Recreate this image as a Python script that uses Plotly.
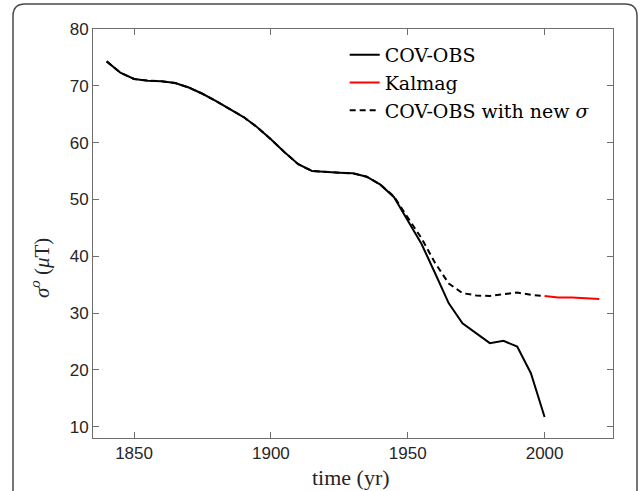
import plotly.graph_objects as go

# ---- data ----
cov_years = [1840, 1845, 1850, 1855, 1860, 1865, 1870, 1875, 1880, 1885, 1890,
             1895, 1900, 1905, 1910, 1915, 1920, 1925, 1930, 1935, 1940, 1945,
             1950, 1955, 1960, 1965, 1970, 1975, 1980, 1985, 1990, 1995, 2000]
cov_obs = [74.3, 72.3, 71.2, 70.9, 70.8, 70.5, 69.7, 68.6, 67.3, 65.9, 64.5,
           62.7, 60.6, 58.3, 56.2, 55.0, 54.8, 54.7, 54.6, 54.0, 52.6, 50.4,
           46.3, 42.2, 37.0, 31.7, 28.2, 26.4, 24.7, 25.1, 24.1, 19.4, 11.7]
cov_new = [74.3, 72.3, 71.2, 70.9, 70.8, 70.5, 69.7, 68.6, 67.3, 65.9, 64.5,
           62.7, 60.6, 58.3, 56.2, 55.0, 54.8, 54.7, 54.6, 54.0, 52.6, 50.5,
           46.8, 43.2, 38.8, 35.2, 33.5, 33.1, 33.0, 33.3, 33.6, 33.2, 33.0]
kal_years = [2000, 2005, 2010, 2015, 2020]
kalmag = [33.0, 32.75, 32.75, 32.65, 32.45]

x_ticks = [1850, 1900, 1950, 2000]
y_ticks = [10, 20, 30, 40, 50, 60, 70, 80]

serif = "Liberation Serif, DejaVu Serif, serif"
sans = "Liberation Sans, Arial, sans-serif"

fig = go.Figure()
fig.add_trace(go.Scatter(x=cov_years, y=cov_obs, mode="lines", name="COV-OBS",
                         line=dict(color="black", width=2)))
fig.add_trace(go.Scatter(x=kal_years, y=kalmag, mode="lines", name="Kalmag",
                         line=dict(color="red", width=2)))
fig.add_trace(go.Scatter(x=cov_years, y=cov_new, mode="lines",
                         name="COV-OBS with new <i>σ</i>",
                         line=dict(color="black", width=2, dash="6px,4px")))

axis_common = dict(showgrid=False, zeroline=False, showline=True, mirror="ticks",
                   linecolor="#6e6e6e", linewidth=1, ticks="inside", ticklen=6,
                   tickcolor="#6e6e6e", tickwidth=1,
                   tickfont=dict(family=sans, size=17, color="#262626"))

fig.update_layout(
    width=640, height=491,
    margin=dict(l=93, r=27, t=29, b=53, autoexpand=False),
    paper_bgcolor="white", plot_bgcolor="white",
    xaxis=dict(range=[1835, 2025], tickvals=x_ticks, **axis_common),
    yaxis=dict(range=[8, 80], tickvals=y_ticks, **axis_common),
    legend=dict(x=0.484, y=0.983, xanchor="left", yanchor="top",
                bgcolor="rgba(0,0,0,0)", borderwidth=0,
                font=dict(family="DejaVu Serif, serif", size=19, color="black"),
                tracegroupgap=0, itemwidth=30),
    showlegend=True,
)

# axis titles
fig.add_annotation(text="time (yr)", xref="paper", yref="paper",
                   x=(351 - 93) / 520, y=(438 - 477) / 409, xanchor="center", yanchor="middle",
                   showarrow=False, font=dict(family=serif, size=22, color="#262626"))
fig.add_annotation(text="<i>σ</i><sup><i>o</i></sup> (<i>μ</i>T)", xref="paper", yref="paper",
                   x=(40 - 93) / 520, y=(438 - 268) / 409, xanchor="center", yanchor="middle",
                   textangle=-90, showarrow=False,
                   font=dict(family=serif, size=21, color="#262626"))

# outer rounded frame (figure border)
x0, x1 = (13 - 93) / 520, (637 - 93) / 520
ytop, ybot = (438 - 4) / 409, (438 - 520) / 409
rx, ry = 12 / 520, 12 / 409
path = (f"M{x0},{ybot} L{x0},{ytop-ry} Q{x0},{ytop} {x0+rx},{ytop} "
        f"L{x1-rx},{ytop} Q{x1},{ytop} {x1},{ytop-ry} L{x1},{ybot}")
fig.add_shape(type="path", path=path, xref="paper", yref="paper",
              line=dict(color="#4a4a4a", width=1.5), layer="above")

fig.write_html("out.html")
